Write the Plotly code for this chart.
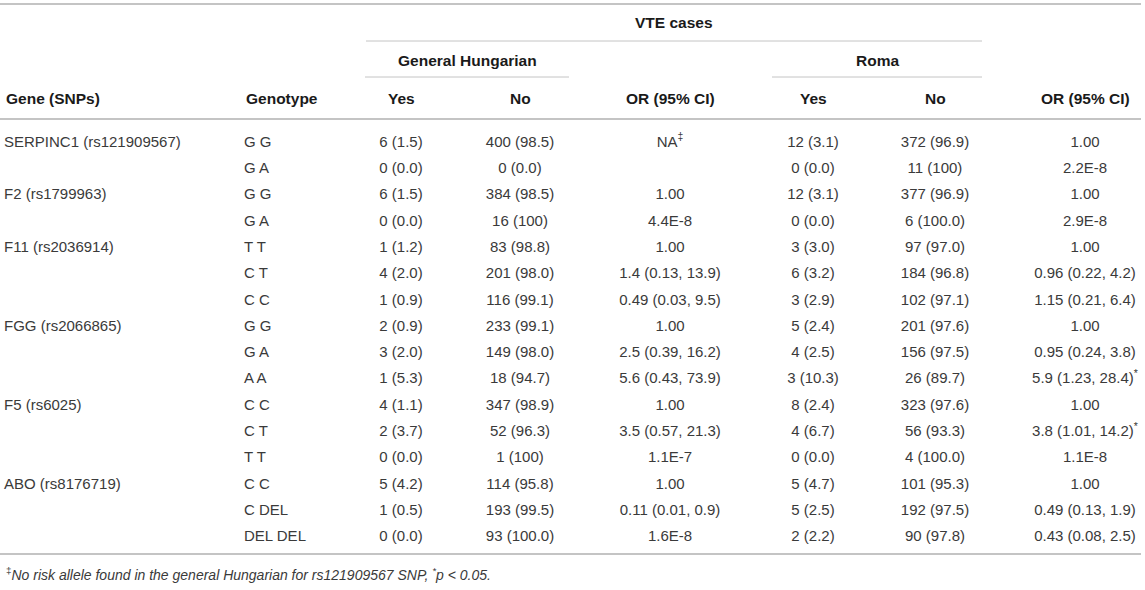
import plotly.graph_objects as go

# table content, one list per column (rows top to bottom)
genes = ["SERPINC1 (rs121909567)", "", "F2 (rs1799963)", "", "F11 (rs2036914)", "", "",
         "FGG (rs2066865)", "", "", "F5 (rs6025)", "", "", "ABO (rs8176719)", "", ""]
genotypes = ["G G", "G A", "G G", "G A", "T T", "C T", "C C", "G G", "G A", "A A",
             "C C", "C T", "T T", "C C", "C DEL", "DEL DEL"]
hu_yes = ["6 (1.5)", "0 (0.0)", "6 (1.5)", "0 (0.0)", "1 (1.2)", "4 (2.0)", "1 (0.9)", "2 (0.9)",
          "3 (2.0)", "1 (5.3)", "4 (1.1)", "2 (3.7)", "0 (0.0)", "5 (4.2)", "1 (0.5)", "0 (0.0)"]
hu_no = ["400 (98.5)", "0 (0.0)", "384 (98.5)", "16 (100)", "83 (98.8)", "201 (98.0)", "116 (99.1)",
         "233 (99.1)", "149 (98.0)", "18 (94.7)", "347 (98.9)", "52 (96.3)", "1 (100)", "114 (95.8)",
         "193 (99.5)", "93 (100.0)"]
hu_or = ["NA‡", "", "1.00", "4.4E-8", "1.00", "1.4 (0.13, 13.9)", "0.49 (0.03, 9.5)", "1.00",
         "2.5 (0.39, 16.2)", "5.6 (0.43, 73.9)", "1.00", "3.5 (0.57, 21.3)", "1.1E-7", "1.00",
         "0.11 (0.01, 0.9)", "1.6E-8"]
roma_yes = ["12 (3.1)", "0 (0.0)", "12 (3.1)", "0 (0.0)", "3 (3.0)", "6 (3.2)", "3 (2.9)", "5 (2.4)",
            "4 (2.5)", "3 (10.3)", "8 (2.4)", "4 (6.7)", "0 (0.0)", "5 (4.7)", "5 (2.5)", "2 (2.2)"]
roma_no = ["372 (96.9)", "11 (100)", "377 (96.9)", "6 (100.0)", "97 (97.0)", "184 (96.8)", "102 (97.1)",
           "201 (97.6)", "156 (97.5)", "26 (89.7)", "323 (97.6)", "56 (93.3)", "4 (100.0)",
           "101 (95.3)", "192 (97.5)", "90 (97.8)"]
roma_or = ["1.00", "2.2E-8", "1.00", "2.9E-8", "1.00", "0.96 (0.22, 4.2)", "1.15 (0.21, 6.4)", "1.00",
           "0.95 (0.24, 3.8)", "5.9 (1.23, 28.4)*", "1.00", "3.8 (1.01, 14.2)*", "1.1E-8", "1.00",
           "0.49 (0.13, 1.9)", "0.43 (0.08, 2.5)"]

col_headers = ["Gene (SNPs)", "Genotype", "Yes", "No", "OR (95% CI)", "Yes", "No", "OR (95% CI)"]
group_title = "VTE cases"
sub_groups = ["General Hungarian", "Roma"]
footnote = "No risk allele found in the general Hungarian for rs121909567 SNP, "

# layout (pixel coordinates of the page)
W, H = 1145, 590
col_x = [4, 244, 401, 520, 670, 813, 935, 1085]
col_align = ["left", "left", "center", "center", "center", "center", "center", "center"]
first_row_y = 143
row_h = 26.3
header_y = 98
FONT = "Liberation Sans, Arial, sans-serif"
BODY = "#3a3a3a"
HEAD = "#1a1a1a"
RULE = "#c4c4c4"


def fmt(s):
    # trailing footnote marks are shown as superscripts
    if s and s[-1] in "*‡":
        return s[:-1] + "<sup>" + s[-1] + "</sup>"
    return s


columns = [genes, genotypes, hu_yes, hu_no, hu_or, roma_yes, roma_no, roma_or]
row_y = [first_row_y + i * row_h for i in range(len(genotypes))]

fig = go.Figure()

for x, col, al in zip(col_x, columns, col_align):
    keep = [i for i, v in enumerate(col) if v]
    fig.add_trace(go.Scatter(
        x=[x] * len(keep), y=[row_y[i] for i in keep], mode="text",
        text=[fmt(col[i]) for i in keep],
        textposition="middle right" if al == "left" else "middle center",
        textfont=dict(family=FONT, size=15, color=BODY),
        hoverinfo="skip", showlegend=False,
    ))

# column headers
for x, h, al in zip(col_x, col_headers, col_align):
    fig.add_annotation(x=x, y=header_y, text="<b>" + h + "</b>", showarrow=False,
                       xanchor="left" if al == "left" else "center", yanchor="middle",
                       font=dict(family=FONT, size=15.5, color=HEAD))

# spanning headers
fig.add_annotation(x=(366 + 982) / 2, y=22, text="<b>" + group_title + "</b>", showarrow=False,
                   font=dict(family=FONT, size=15.5, color=HEAD))
for (a, b), t in zip([(365, 569), (772, 982)], sub_groups):
    fig.add_annotation(x=(a + b) / 2, y=60, text="<b>" + t + "</b>", showarrow=False,
                       font=dict(family=FONT, size=15.5, color=HEAD))
    fig.add_shape(type="line", x0=a, x1=b, y0=77, y1=77, line=dict(color=RULE, width=1))
fig.add_shape(type="line", x0=366, x1=982, y0=41, y1=41, line=dict(color=RULE, width=1))

# main rules
for y in [4, 119, 554]:
    fig.add_shape(type="line", x0=0, x1=1141, y0=y, y1=y, line=dict(color=RULE, width=2))

fig.add_annotation(x=4, y=574, xanchor="left",
                   text="<sup>‡</sup><i>" + footnote + "<sup>*</sup>p &lt; 0.05.</i>",
                   showarrow=False, font=dict(family=FONT, size=14, color=BODY))

fig.update_layout(
    width=W, height=H,
    margin=dict(l=0, r=0, t=0, b=0),
    paper_bgcolor="white", plot_bgcolor="white",
    xaxis=dict(range=[0, W], visible=False, fixedrange=True),
    yaxis=dict(range=[H, 0], visible=False, fixedrange=True),
)

fig.write_html("out.html", config={"displayModeBar": False},
               post_script="document.body.style.margin='0px';")
